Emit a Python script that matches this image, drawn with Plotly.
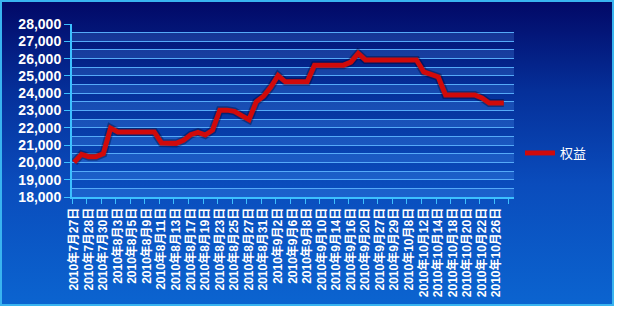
import base64
import plotly.graph_objects as go

# ---- data ----
tick_dates = [
    "2010年7月27日", "2010年7月28日", "2010年7月30日", "2010年8月3日", "2010年8月5日",
    "2010年8月9日", "2010年8月11日", "2010年8月13日", "2010年8月17日", "2010年8月19日",
    "2010年8月23日", "2010年8月25日", "2010年8月27日", "2010年8月31日", "2010年9月2日",
    "2010年9月6日", "2010年9月8日", "2010年9月10日", "2010年9月14日", "2010年9月16日",
    "2010年9月20日", "2010年9月27日", "2010年9月29日", "2010年10月8日", "2010年10月12日",
    "2010年10月14日", "2010年10月18日", "2010年10月20日", "2010年10月22日", "2010年10月26日",
]
equity = [
    20000, 20470, 20330, 20330, 20500, 21980, 21760, 21760, 21760, 21760,
    21760, 21760, 21120, 21090, 21100, 21270, 21600, 21740, 21580, 21860,
    23020, 23020, 22950, 22700, 22470, 23500, 23820, 24350, 25020, 24660,
    24660, 24660, 24660, 25620, 25620, 25620, 25620, 25620, 25800, 26300,
    25920, 25920, 25920, 25920, 25920, 25920, 25920, 25920, 25230, 25080,
    24940, 23900, 23900, 23900, 23900, 23900, 23720, 23430, 23430, 23430,
]
series_name = "权益"
y_min, y_max = 18000, 28000

x_idx = list(range(len(equity)))
tick_pos = list(range(0, len(equity), 2))[: len(tick_dates)]

W, H = 619, 310
ML, MR, MT, MB = 72, 105, 24, 113
PW, PH = W - ML - MR, H - MT - MB

# background: gradient panel with light border (as SVG image)
svg = f'''<svg xmlns="http://www.w3.org/2000/svg" width="{W}" height="{H}" viewBox="0 0 {W} {H}">
<defs><linearGradient id="g" x1="0" y1="0" x2="0" y2="1">
<stop offset="0" stop-color="#020866"/>
<stop offset="0.3" stop-color="#05309a"/>
<stop offset="0.6" stop-color="#0a4cbc"/>
<stop offset="1" stop-color="#0b64d0"/>
</linearGradient></defs>
<rect x="0" y="0" width="{W}" height="{H}" fill="#ffffff"/>
<rect x="1" y="1" width="612" height="304" fill="url(#g)" stroke="#39b4f0" stroke-width="2"/>
</svg>'''
src = "data:image/svg+xml;base64," + base64.b64encode(svg.encode()).decode()

cyan = "#3cc0ff"
grid = "#55aaf8"

fig = go.Figure()
fig.add_trace(go.Scatter(
    x=x_idx, y=equity, mode="lines", showlegend=False, hoverinfo="skip",
    line=dict(color="rgba(0,0,30,0.35)", width=8),
))
fig.add_trace(go.Scatter(
    x=x_idx, y=equity, mode="lines", name=series_name,
    line=dict(color="#d00a0a", width=5),
))

shapes = []
for v in range(y_min, y_max, 1000):
    shapes.append(dict(type="rect", xref="paper", x0=0, x1=1, yref="y", y0=v, y1=v + 500,
                       fillcolor="rgba(90,170,255,0.22)", line=dict(width=0), layer="below"))

fig.update_layout(
    width=W, height=H,
    margin=dict(l=ML, r=MR, t=MT, b=MB),
    paper_bgcolor="#ffffff",
    plot_bgcolor="rgba(0,0,0,0)",
    images=[dict(source=src, xref="paper", yref="paper",
                 x=-ML / PW, y=1 + MT / PH, sizex=W / PW, sizey=H / PH,
                 xanchor="left", yanchor="top", sizing="stretch", layer="below")],
    shapes=shapes,
    showlegend=True,
    legend=dict(x=(520 - ML) / PW, y=(197 - 153) / PH, xanchor="left", yanchor="middle",
                bgcolor="rgba(0,0,0,0)", font=dict(color="white", size=13,
                family="Noto Sans CJK SC, Liberation Sans"), itemwidth=30),
    font=dict(family="Liberation Sans, Arial, Noto Sans CJK SC", color="white"),
)

fig.update_xaxes(
    range=[-0.3, 60.4], tickmode="array", tickvals=tick_pos, ticktext=tick_dates,
    tickangle=-90, ticks="", showgrid=False, zeroline=False,
    showline=True, linecolor=cyan, linewidth=2, ticklabelstandoff=4,
    tickfont=dict(size=12, color="white", weight="bold",
                  family="Liberation Sans, Noto Sans CJK SC"),
    minor=dict(tickmode="linear", tick0=-0.3, dtick=2, ticks="outside",
               ticklen=5, tickcolor=cyan, tickwidth=1, showgrid=False),
)
fig.update_yaxes(
    range=[y_min, y_max], dtick=1000, tickformat=",d",
    showgrid=True, gridcolor=grid, gridwidth=1, zeroline=False,
    showline=True, linecolor=cyan, linewidth=2,
    ticks="outside", ticklen=6, tickcolor=cyan,
    tickfont=dict(size=14, color="white", weight="bold", family="Liberation Sans, Arial"),
    minor=dict(dtick=500, showgrid=True, gridcolor=grid, gridwidth=1),
)

fig.write_html("out.html")
